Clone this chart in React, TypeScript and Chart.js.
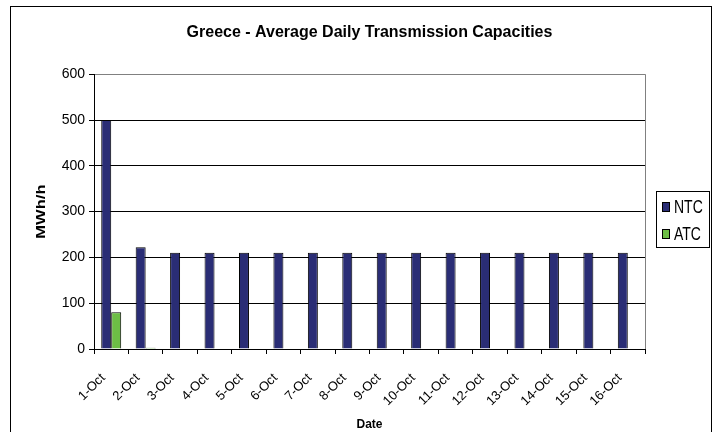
import React, { useEffect, useRef } from "react";
import { Chart, registerables } from "chart.js";

Chart.register(...registerables);

const dates = [
  "1-Oct", "2-Oct", "3-Oct", "4-Oct", "5-Oct", "6-Oct", "7-Oct", "8-Oct",
  "9-Oct", "10-Oct", "11-Oct", "12-Oct", "13-Oct", "14-Oct", "15-Oct", "16-Oct",
];
const ntcValues = [500, 222, 210, 210, 210, 210, 210, 210, 210, 210, 210, 210, 210, 210, 210, 210];
const atcValues = [80, 3, 0, 0, 0, 0, 0, 0, 0, 0, 0, 0, 0, 0, 0, 0];
const yTicks = [0, 100, 200, 300, 400, 500, 600];
const yAxisTitle = "MWh/h";

const FONT = "'Liberation Sans', Arial, sans-serif";

// Slanted date labels, y-axis title, plot border, outer frame and boxed legend
const decorPlugin = {
  id: "decor",
  afterDraw(chart: any) {
    const { ctx, chartArea } = chart;
    const xScale = chart.scales.x;
    ctx.save();

    // plot area border (gray, right side)
    ctx.strokeStyle = "#808080";
    ctx.lineWidth = 1;
    ctx.beginPath();
    ctx.moveTo(chartArea.right + 0.5, chartArea.top);
    ctx.lineTo(chartArea.right + 0.5, chartArea.bottom);
    ctx.stroke();

    // outer chart border
    ctx.strokeStyle = "#000";
    ctx.strokeRect(10.5, 6.5, 701, 430);

    // category labels at 45 degrees, ending just left of each category centre
    ctx.fillStyle = "#000";
    ctx.font = `13px ${FONT}`;
    ctx.textAlign = "right";
    ctx.textBaseline = "middle";
    chart.data.labels.forEach((lab: string, i: number) => {
      const x = xScale.getPixelForValue(i);
      ctx.save();
      ctx.translate(x - 8, xScale.top + 27);
      ctx.rotate(-Math.PI / 4);
      ctx.fillText(lab, 0, 0);
      ctx.restore();
    });

    // y-axis title
    ctx.save();
    ctx.font = `bold 12px ${FONT}`;
    ctx.textAlign = "center";
    ctx.textBaseline = "middle";
    ctx.translate(42, (chartArea.top + chartArea.bottom) / 2);
    ctx.rotate(-Math.PI / 2);
    ctx.scale(1.38, 1);
    ctx.fillText(yAxisTitle, 0, 0);
    ctx.restore();

    // legend
    const lx = 656, ly = 191, lw = 53, lh = 56;
    ctx.strokeStyle = "#000";
    ctx.strokeRect(lx + 0.5, ly + 0.5, lw, lh);
    ctx.font = `14px ${FONT}`;
    ctx.textAlign = "left";
    ctx.textBaseline = "middle";
    chart.data.datasets.forEach((ds: any, i: number) => {
      const cy = ly + 16 + i * 27;
      ctx.fillStyle = ds.backgroundColor;
      ctx.fillRect(lx + 6, cy - 5, 8, 10);
      ctx.strokeStyle = "#000";
      ctx.strokeRect(lx + 6.5, cy - 4.5, 7, 9);
      ctx.save();
      ctx.translate(lx + 18, cy + 1);
      ctx.scale(1, 1.35);
      ctx.fillStyle = "#000";
      ctx.fillText(ds.label, 0, 0);
      ctx.restore();
    });
    ctx.restore();
  },
};

export default function App() {
  const canvasRef = useRef<HTMLCanvasElement | null>(null);

  useEffect(() => {
    document.body.style.margin = "0";
    const canvas = canvasRef.current;
    if (!canvas) return;
    const chart = new Chart(canvas, {
      type: "bar",
      data: {
        labels: dates,
        datasets: [
          {
            label: "NTC",
            data: ntcValues,
            backgroundColor: "#2A2D75",
            borderColor: "#000",
            borderWidth: 1,
            barPercentage: 1,
            categoryPercentage: 0.58,
          },
          {
            label: "ATC",
            data: atcValues,
            backgroundColor: "#6DBE45",
            borderColor: "#000",
            borderWidth: 1,
            barPercentage: 1,
            categoryPercentage: 0.58,
          },
        ],
      },
      options: {
        animation: false,
        responsive: false,
        devicePixelRatio: 1,
        layout: { padding: { left: 12, top: 8, right: 72, bottom: 0 } },
        plugins: {
          legend: { display: false },
          tooltip: { enabled: false },
          title: {
            display: true,
            text: "Greece - Average Daily Transmission Capacities",
            color: "#000",
            font: { family: FONT, size: 16, weight: "bold" },
            padding: { top: 15, bottom: 32 },
            fullSize: false,
          },
        },
        scales: {
          x: {
            grid: {
              display: true,
              drawOnChartArea: false,
              drawTicks: true,
              tickLength: 5,
              color: "#000",
            },
            border: { color: "#000" },
            ticks: { display: false },
            title: {
              display: true,
              text: "Date",
              color: "#000",
              font: { family: FONT, size: 12, weight: "bold" },
              padding: { top: 0, bottom: 0 },
            },
            afterFit: (scale: any) => {
              scale.height = 83;
            },
          },
          y: {
            min: 0,
            max: 600,
            afterBuildTicks: (scale: any) => {
              scale.ticks = yTicks.map((v) => ({ value: v }));
            },
            grid: {
              color: (c: any) => (c.tick && c.tick.value === 600 ? "#808080" : "#000"),
              tickColor: "#000",
              tickLength: 5,
            },
            border: { color: "#000" },
            ticks: {
              color: "#000",
              font: { family: FONT, size: 14 },
              padding: 4,
            },
            afterFit: (scale: any) => {
              scale.width = 82;
            },
          },
        },
      },
      plugins: [decorPlugin],
    });
    return () => chart.destroy();
  }, []);

  return <canvas ref={canvasRef} width={717} height={432} style={{ display: "block" }} />;
}
